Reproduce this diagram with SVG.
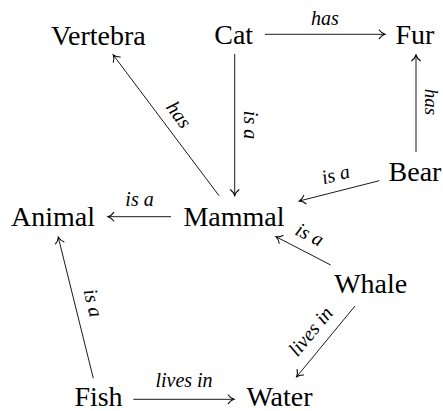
<svg xmlns="http://www.w3.org/2000/svg" width="443" height="411" viewBox="0 0 443 411">
<style>
.node{font-family:"Liberation Serif","Times New Roman",serif;font-size:28px;fill:#000;text-anchor:middle}
.lbl{font-family:"Liberation Serif","Times New Roman",serif;font-style:italic;font-size:20px;fill:#000;text-anchor:middle}
.edge{stroke:#000;stroke-width:0.9;fill:none;marker-end:url(#arr)}
</style>
<defs>
<marker id="arr" markerUnits="userSpaceOnUse" markerWidth="12" markerHeight="12" viewBox="-6 -5 8 10" refX="0" refY="0" orient="auto">
<path d="M-4.8,-3.6 C-3.4,-1.6 -1.6,-0.5 0,0 C-1.6,0.5 -3.4,1.6 -4.8,3.6" fill="none" stroke="#000" stroke-width="0.9" stroke-linecap="round"/>
</marker>
</defs>
<rect width="443" height="411" fill="#fff"/>
<g id="connectors">
<line class="edge" x1="265" y1="34.3" x2="385" y2="34.3"/>
<text class="lbl" x="325" y="25">has</text>
<line class="edge" x1="416" y1="152" x2="416" y2="55"/>
<text class="lbl" style="font-size:19px" transform="translate(425,102) rotate(90)" x="0" y="0">has</text>
<line class="edge" x1="234.7" y1="54" x2="234.7" y2="195.5"/>
<text class="lbl" transform="translate(249.2,125) rotate(90)" x="0" y="5">is a</text>
<line class="edge" x1="219" y1="195.7" x2="113.3" y2="55"/>
<text class="lbl" transform="translate(178.3,115) rotate(53)" x="0" y="6">has</text>
<line class="edge" x1="171" y1="216.7" x2="108" y2="216.7"/>
<text class="lbl" x="139.5" y="206">is a</text>
<line class="edge" x1="379.3" y1="180.7" x2="299.3" y2="201"/>
<text class="lbl" transform="translate(336,176) rotate(-14.2)" x="0" y="5">is a</text>
<line class="edge" x1="330.7" y1="265" x2="276" y2="236.7"/>
<text class="lbl" transform="translate(309,236) rotate(27.4)" x="0" y="5">is a</text>
<line class="edge" x1="355" y1="306" x2="296.7" y2="376.7"/>
<text class="lbl" transform="translate(311,331.7) rotate(-50.5)" x="0" y="6">lives in</text>
<line class="edge" x1="93.3" y1="378.3" x2="58.3" y2="237.3"/>
<text class="lbl" transform="translate(91.7,303.3) rotate(76)" x="0" y="5">is a</text>
<line class="edge" x1="133.3" y1="399.3" x2="234" y2="399.3"/>
<text class="lbl" x="184" y="386.7">lives in</text>
</g>
<g id="node-vertebra"><text class="node" x="98.3" y="44.5">Vertebra</text></g>
<g id="node-cat"><text class="node" x="233.7" y="44.3">Cat</text></g>
<g id="node-fur"><text class="node" x="415" y="44.3">Fur</text></g>
<g id="node-animal"><text class="node" x="53" y="226">Animal</text></g>
<g id="node-mammal"><text class="node" x="234" y="226">Mammal</text></g>
<g id="node-bear"><text class="node" x="415" y="180.5">Bear</text></g>
<g id="node-whale"><text class="node" x="370.7" y="293.3">Whale</text></g>
<g id="node-fish"><text class="node" x="98.5" y="405.7">Fish</text></g>
<g id="node-water"><text class="node" x="279.5" y="405.7">Water</text></g>
</svg>
